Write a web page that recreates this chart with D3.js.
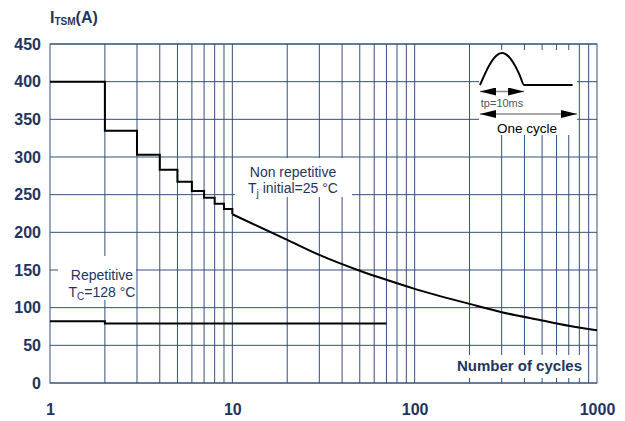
<!DOCTYPE html>
<html>
<head>
<meta charset="utf-8">
<script src="https://cdn.jsdelivr.net/npm/d3@7"></script>
<style>
  body { margin: 0; background: #fff; }
  text { font-family: "Liberation Sans", Arial, sans-serif; }
</style>
</head>
<body>
<div id="chart"></div>
<script>
// Data
const stepCycles = [1, 2, 3, 4, 5, 6, 7, 8, 9, 10];
const stepCurrent = [400, 335, 303, 283, 267, 255, 246, 238, 231, 224];
const curveCycles = [10, 20, 30, 50, 70, 100, 200, 300, 500, 700, 1000];
const curveCurrent = [224, 190, 170, 149, 137, 125, 105, 94, 83, 76, 70];
const repCycles = [1, 2, 70];
const repCurrent = [82, 79, 79];
const yTicks = [0, 50, 100, 150, 200, 250, 300, 350, 400, 450];
const xTicks = [1, 10, 100, 1000];
const gridX = [2, 3, 4, 5, 6, 7, 8, 9, 10, 20, 30, 40, 50, 60, 70, 80, 90, 100,
               200, 300, 400, 500, 600, 700, 800, 900];
// inset pulse (time in ms, relative amplitude)
const pulseT = [0, 1, 2, 3, 4, 5, 6, 7, 8, 9, 10, 21];
const pulseA = [0, 0.31, 0.59, 0.81, 0.95, 1, 0.95, 0.81, 0.59, 0.31, 0, 0];

const W = 625, H = 421;
const margin = { top: 44, right: 28, bottom: 38, left: 50 };
const navy = "#1f3560";
const gridColor = "#34507a";

const svg = d3.select("#chart").append("svg")
    .attr("width", W)
    .attr("height", H);

const x = d3.scaleLog().domain([1, 1000]).range([margin.left, W - margin.right]);
const y = d3.scaleLinear().domain([0, 450]).range([H - margin.bottom, margin.top]);

// grid
svg.append("g")
    .selectAll("line.v")
    .data(gridX)
    .enter().append("line")
    .attr("x1", d => x(d)).attr("x2", d => x(d))
    .attr("y1", y(0)).attr("y2", y(450))
    .style("stroke", gridColor).style("stroke-width", 1);

svg.append("g")
    .selectAll("line.h")
    .data(yTicks)
    .enter().append("line")
    .attr("x1", x(1)).attr("x2", x(1000))
    .attr("y1", d => y(d)).attr("y2", d => y(d))
    .style("stroke", gridColor).style("stroke-width", 1);

svg.append("rect")
    .attr("x", x(1)).attr("y", y(450))
    .attr("width", x(1000) - x(1)).attr("height", y(0) - y(450))
    .style("fill", "none").style("stroke", gridColor).style("stroke-width", 1);

// white boxes behind annotations
const boxes = [
    [235, 158, 117, 39],   // non repetitive
    [58, 256, 78, 44],     // repetitive
    [479, 50, 98, 85],     // inset
    [452, 355, 134, 23]    // axis title
];
boxes.forEach(b => {
    svg.append("rect").attr("x", b[0]).attr("y", b[1])
        .attr("width", b[2]).attr("height", b[3]).style("fill", "#fff");
});

// axes labels
const yAxis = svg.append("g")
    .attr("transform", `translate(${margin.left},0)`)
    .call(d3.axisLeft(y).tickValues(yTicks).tickSize(0).tickPadding(9));
const xAxis = svg.append("g")
    .attr("transform", `translate(0,${y(0)})`)
    .call(d3.axisBottom(x).tickValues(xTicks).tickFormat(d3.format("d")).tickSize(0).tickPadding(21));
[yAxis, xAxis].forEach(a => {
    a.select(".domain").remove();
    a.selectAll("text")
        .style("font-family", "'Liberation Sans', Arial, sans-serif")
        .style("font-size", "16px")
        .style("font-weight", "bold")
        .style("fill", navy);
});

// curves
const line = d3.line().x(d => x(d[0])).y(d => y(d[1]));

svg.append("path")
    .datum(d3.zip(stepCycles, stepCurrent))
    .attr("d", line.curve(d3.curveStepAfter))
    .style("fill", "none").style("stroke", "#000").style("stroke-width", 2);

svg.append("path")
    .datum(d3.zip(curveCycles, curveCurrent))
    .attr("d", d3.line().x(d => x(d[0])).y(d => y(d[1])).curve(d3.curveMonotoneX))
    .style("fill", "none").style("stroke", "#000").style("stroke-width", 2);

svg.append("path")
    .datum(d3.zip(repCycles, repCurrent))
    .attr("d", d3.line().x(d => x(d[0])).y(d => y(d[1])).curve(d3.curveStepAfter))
    .style("fill", "none").style("stroke", "#000").style("stroke-width", 2);

// annotations
const ann1 = svg.append("text").attr("text-anchor", "middle")
    .style("font-size", "14px").style("fill", navy);
ann1.append("tspan").attr("x", 293).attr("y", 177).text("Non repetitive");
const l2 = svg.append("text").attr("text-anchor", "middle").attr("x", 293).attr("y", 193)
    .style("font-size", "14px").style("fill", navy);
l2.append("tspan").text("T");
l2.append("tspan").attr("dy", 4).style("font-size", "10px").text("j");
l2.append("tspan").attr("dy", -4).text(" initial=25 °C");

svg.append("text").attr("text-anchor", "middle").attr("x", 102).attr("y", 280)
    .style("font-size", "14px").style("fill", navy).text("Repetitive");
const r2 = svg.append("text").attr("text-anchor", "middle").attr("x", 102).attr("y", 297)
    .style("font-size", "14px").style("fill", navy);
r2.append("tspan").text("T");
r2.append("tspan").attr("dy", 3).style("font-size", "10px").text("C");
r2.append("tspan").attr("dy", -3).text("=128 °C");

svg.append("text").attr("text-anchor", "end").attr("x", 582).attr("y", 371)
    .style("font-size", "15px").style("font-weight", "bold").style("fill", navy)
    .text("Number of cycles");

// title
const title = svg.append("text").attr("x", 50).attr("y", 23)
    .style("font-size", "16px").style("font-weight", "bold").style("fill", navy);
title.append("tspan").text("I");
title.append("tspan").attr("dy", 2).style("font-size", "10px").text("TSM");
title.append("tspan").attr("dy", -2).text("(A)");

// inset: pulse shape
const t = d3.scaleLinear().domain([0, 22]).range([480, 577]);
const a = d3.scaleLinear().domain([0, 1]).range([85, 53]);

svg.append("path")
    .datum(d3.zip(pulseT, pulseA))
    .attr("d", d3.line().x(d => t(d[0])).y(d => a(d[1])).curve(d3.curveMonotoneX))
    .style("fill", "none").style("stroke", "#000").style("stroke-width", 2);

const defs = svg.append("defs");
["start", "end"].forEach(k => {
    defs.append("marker")
        .attr("id", "arrow-" + k)
        .attr("viewBox", "0 0 16 8")
        .attr("refX", k === "end" ? 16 : 0).attr("refY", 4)
        .attr("markerWidth", 16).attr("markerHeight", 8)
        .attr("markerUnits", "userSpaceOnUse")
        .attr("orient", "auto")
        .append("path")
        .attr("d", k === "end" ? "M0,0 L16,4 L0,8 Z" : "M16,0 L0,4 L16,8 Z")
        .style("fill", "#000");
});

const arrows = [[0, 10, 91.5], [0, 22, 114]];
arrows.forEach(r => {
    svg.append("line")
        .attr("x1", t(r[0])).attr("x2", t(r[1]))
        .attr("y1", r[2]).attr("y2", r[2])
        .style("stroke", "#8c8c8c").style("stroke-width", 1.5)
        .attr("marker-start", "url(#arrow-start)")
        .attr("marker-end", "url(#arrow-end)");
});

svg.append("text").attr("x", t(5)).attr("y", 107).attr("text-anchor", "middle")
    .style("font-size", "11px").style("fill", "#555").text("tp=10ms");
svg.append("text").attr("x", 527).attr("y", 133).attr("text-anchor", "middle")
    .style("font-size", "13.5px").style("fill", "#000").text("One cycle");
</script>
</body>
</html>
